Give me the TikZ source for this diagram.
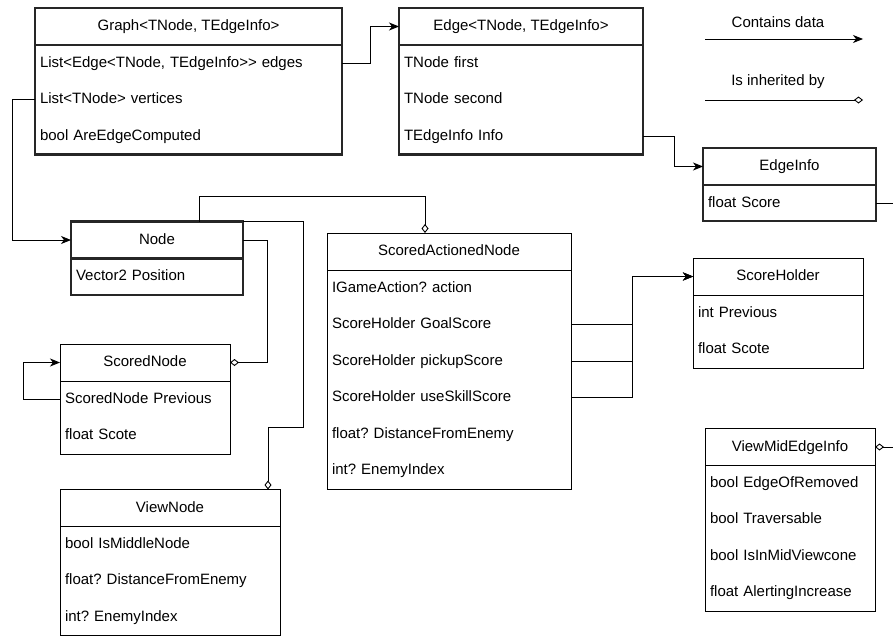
\documentclass[tikz,border=0pt]{standalone}
\usepackage{fontspec}
\setmainfont{Liberation Sans}
\usetikzlibrary{arrows.meta}

\begin{document}
\frenchspacing
\begin{tikzpicture}[x=1pt,y=-1pt,line width=0.9pt,font=\fontsize{15}{17}\selectfont]
    \tikzstyle{head}=[draw=black,minimum height=37pt,inner sep=0pt,outer sep=0pt,text height=11pt,text depth=3pt]
    \tikzstyle{field}=[minimum height=36.5pt,inner xsep=5pt,inner ysep=0pt,outer sep=0pt,align=left,text height=11pt,text depth=3pt]
    \tikzstyle{bold}=[line width=2.4pt,draw=black!85]
    \tikzstyle{has}=[-{Stealth[length=10pt,width=8pt,inset=3pt]}]
    \tikzstyle{isa}=[-{Diamond[open,length=9pt,width=7pt]}]
    \useasboundingbox (0,0) rectangle (893,635);

    % Graph
    \node[head,bold,minimum width=307pt] (graph) at (188.5,26.5) {Graph<TNode, TEdgeInfo>};
    \foreach \i/\txt in {1/{List<Edge<TNode, TEdgeInfo>{}> edges}, 2/{List<TNode> vertices}, 3/{bool AreEdgeComputed}}
        \node[field,text width=297pt] (graph-\i) at (188.5,{45+36.5*(\i-0.5)}) {\txt};
    \draw[bold] (graph.south west) rectangle (graph-3.south east);

    % Edge
    \node[head,bold,minimum width=244pt] (edge) at (521,26.5) {Edge<TNode, TEdgeInfo>};
    \foreach \i/\txt in {1/{TNode first}, 2/{TNode second}, 3/{TEdgeInfo Info}}
        \node[field,text width=234pt] (edge-\i) at (521,{45+36.5*(\i-0.5)}) {\txt};
    \draw[bold] (edge.south west) rectangle (edge-3.south east);

    % EdgeInfo
    \node[head,bold,minimum width=173pt] (edgeinfo) at (789.5,166.5) {EdgeInfo};
    \node[field,text width=163pt] (edgeinfo-1) at (789.5,203) {float Score};
    \draw[bold] (edgeinfo.south west) rectangle (edgeinfo-1.south east);

    % Node
    \node[head,bold,minimum width=172pt] (node) at (157,240) {Node};
    \node[field,text width=162pt] (node-1) at (157,276.5) {Vector2 Position};
    \draw[bold] (node.south west) rectangle (node-1.south east);

    % ScoredNode
    \node[head,minimum width=170pt] (scorednode) at (145,362.5) {ScoredNode};
    \foreach \i/\txt in {1/{ScoredNode Previous}, 2/{float Scote}}
        \node[field,text width=160pt] (scorednode-\i) at (145,{381+36.5*(\i-0.5)}) {\txt};
    \draw (scorednode.south west) rectangle (scorednode-2.south east);

    % ViewNode
    \node[head,minimum width=220pt] (viewnode) at (170,508) {ViewNode};
    \foreach \i/\txt in {1/{bool IsMiddleNode}, 2/{float? DistanceFromEnemy}, 3/{int? EnemyIndex}}
        \node[field,text width=210pt] (viewnode-\i) at (170,{526+36.5*(\i-0.5)}) {\txt};
    \draw (viewnode.south west) rectangle (viewnode-3.south east);

    % ScoredActionedNode
    \node[head,minimum width=244pt] (san) at (449,251.5) {ScoredActionedNode};
    \foreach \i/\txt in {1/{IGameAction? action}, 2/{ScoreHolder GoalScore}, 3/{ScoreHolder pickupScore},
                         4/{ScoreHolder useSkillScore}, 5/{float? DistanceFromEnemy}, 6/{int? EnemyIndex}}
        \node[field,text width=234pt] (san-\i) at (449,{270+36.5*(\i-0.5)}) {\txt};
    \draw (san.south west) rectangle (san-6.south east);

    % ScoreHolder
    \node[head,minimum width=170pt] (scoreholder) at (778,276.5) {ScoreHolder};
    \foreach \i/\txt in {1/{int Previous}, 2/{float Scote}}
        \node[field,text width=160pt] (scoreholder-\i) at (778,{295+36.5*(\i-0.5)}) {\txt};
    \draw (scoreholder.south west) rectangle (scoreholder-2.south east);

    % ViewMidEdgeInfo
    \node[head,minimum width=170pt] (viewmid) at (790,447) {ViewMidEdgeInfo};
    \foreach \i/\txt in {1/{bool EdgeOfRemoved}, 2/{bool Traversable}, 3/{bool IsInMidViewcone}, 4/{float AlertingIncrease}}
        \node[field,text width=160pt] (viewmid-\i) at (790,{465+36.5*(\i-0.5)}) {\txt};
    \draw (viewmid.south west) rectangle (viewmid-4.south east);

    % legend
    \node (contains) at (778,22) {Contains data};
    \node (inherited) at (778,82) {Is inherited by};
    \coordinate (has-a) at (705,39);
    \coordinate (has-b) at (863,39);
    \coordinate (isa-a) at (705,100);
    \coordinate (isa-b) at (863,100);
    \draw[has] (has-a) -- (has-b);
    \draw[isa] (isa-a) -- (isa-b);

    % contains data
    \draw[has] (graph-1.east) -- ++(28,0) |- (edge.west);
    \draw[has] (edge-3.east) -- ++(31,0) |- (edgeinfo.west);
    \draw[has] (graph-2.west) -- ++(-23,0) |- (node.west);
    \draw[has] (scorednode-1.west) -- ++(-37,0) |- (scorednode.west);
    \foreach \i in {2,3,4}
        \draw[has] (san-\i.east) -- ++(61,0) |- (scoreholder.west);

    % is inherited by
    \draw[isa] ([xshift=42pt]node.north) -- ++(0,-25) -| ([xshift=-24pt]san.north);
    \draw[isa] (node.north east) -- ++(60,0) -- ++(0,206) -| ([xshift=98pt]viewnode.north);
    \draw[isa] (node.east) -- ++(24,0) |- (scorednode.east);
    \coordinate (out-a) at (893,203);
    \coordinate (out-b) at (893,447);
    \draw (edgeinfo-1.east) -- (out-a);
    \draw[isa] (out-b) -- (viewmid.east);
\end{tikzpicture}
\end{document}
